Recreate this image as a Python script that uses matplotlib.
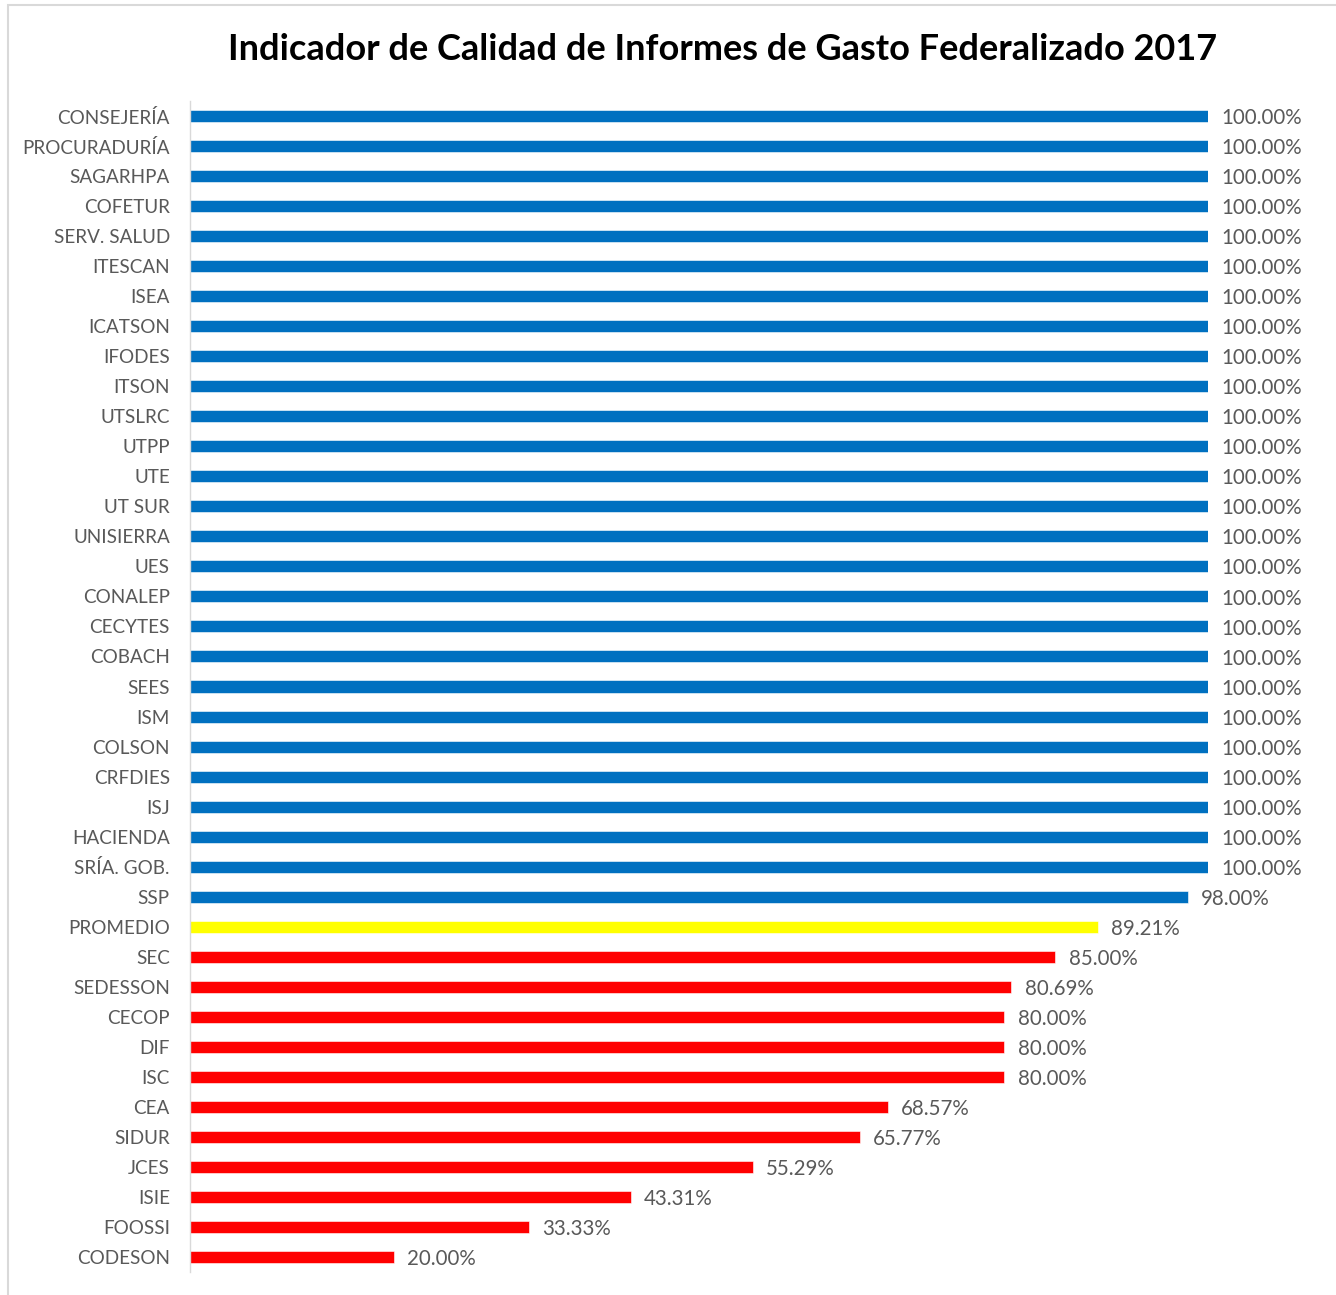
import matplotlib.pyplot as plt
from matplotlib.patches import Rectangle

# Dependencias (de arriba hacia abajo) y su indicador en %
dependencias = ['CONSEJERÍA', 'PROCURADURÍA', 'SAGARHPA', 'COFETUR', 'SERV. SALUD',
                'ITESCAN', 'ISEA', 'ICATSON', 'IFODES', 'ITSON', 'UTSLRC', 'UTPP',
                'UTE', 'UT SUR', 'UNISIERRA', 'UES', 'CONALEP', 'CECYTES', 'COBACH',
                'SEES', 'ISM', 'COLSON', 'CRFDIES', 'ISJ', 'HACIENDA', 'SRÍA. GOB.',
                'SSP', 'PROMEDIO', 'SEC', 'SEDESSON', 'CECOP', 'DIF', 'ISC', 'CEA',
                'SIDUR', 'JCES', 'ISIE', 'FOOSSI', 'CODESON']
valores = [100.00] * 26 + [98.00, 89.21, 85.00, 80.69, 80.00, 80.00, 80.00,
                           68.57, 65.77, 55.29, 43.31, 33.33, 20.00]
promedio = 89.21

colores = []
for v, d in zip(valores, dependencias):
    if d == 'PROMEDIO':
        colores.append('#FFFF00')
    elif v > promedio:
        colores.append('#0070C0')
    else:
        colores.append('#FF0000')

W, H = 1336, 1295
fig = plt.figure(figsize=(W / 100, H / 100), dpi=100)
ax = fig.add_axes([190 / W, 1 - 1272 / H, (1208 - 190) / W, (1272 - 101) / H])

pos = list(range(len(dependencias)))
ax.barh(pos, valores, height=0.4, color=colores, edgecolor='white', linewidth=0.4)
ax.set_xlim(0, 100)
ax.set_ylim(len(dependencias) - 0.5, -0.5)

for p, v in zip(pos, valores):
    ax.text(v + 1.3, p + 0.07, f'{v:.2f}%', va='center', ha='left', fontsize=14.8,
            color='#595959', family='Lato', clip_on=False)

ax.set_yticks(pos)
ax.set_yticklabels(dependencias, fontsize=13.6, color='#595959', family='Lato')
ax.tick_params(axis='y', length=0, pad=14.5)
ax.set_xticks([])
for s in ['top', 'right', 'bottom']:
    ax.spines[s].set_visible(False)
ax.spines['left'].set_color('#D9D9D9')
ax.spines['left'].set_linewidth(1)

fig.text(723 / W, 1 - 50 / H, 'Indicador de Calidad de Informes de Gasto Federalizado 2017',
         ha='center', va='center', fontsize=26, fontweight='bold', family='Lato')

# marco gris del grafico
fig.patches.append(Rectangle((8 / W, -0.01), 1.0, 1 - 5 / H + 0.01, transform=fig.transFigure,
                             fill=False, edgecolor='#D9D9D9', linewidth=1.5))

fig.savefig('out.png', dpi=100)
